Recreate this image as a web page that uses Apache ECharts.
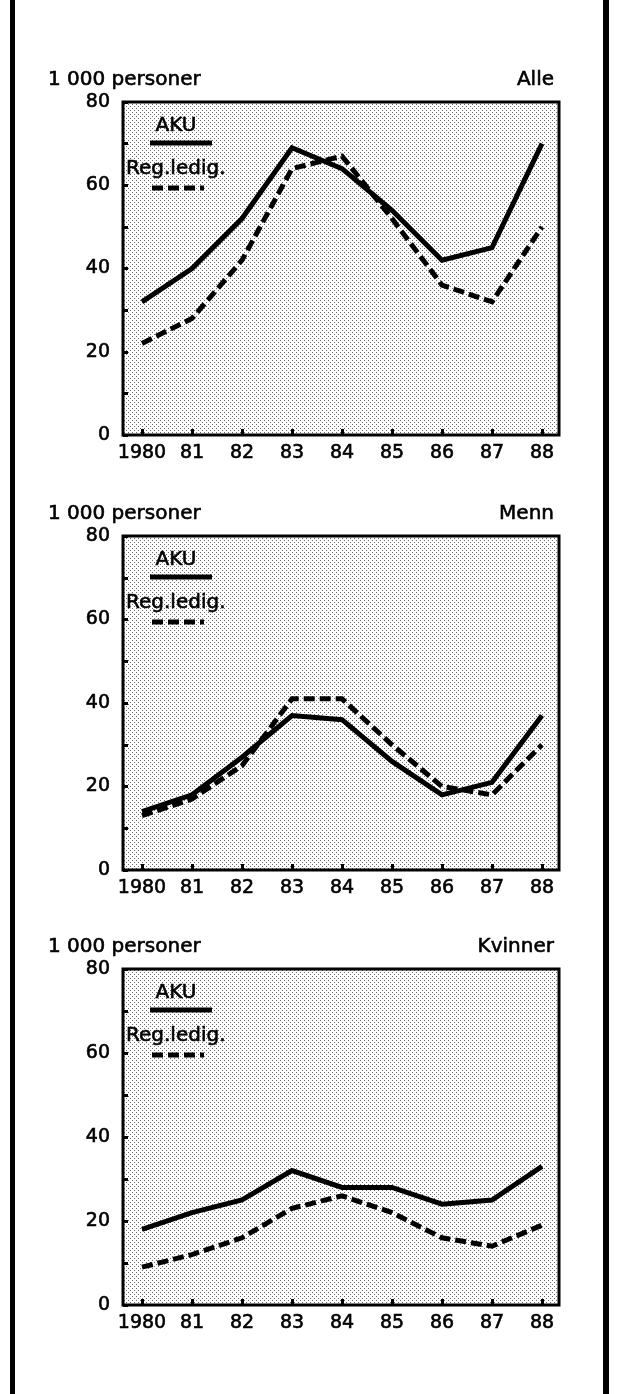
<!DOCTYPE html>
<html>
<head>
<meta charset="utf-8">
<title>AKU og registrerte ledige 1980-88</title>
<script src="https://cdn.jsdelivr.net/npm/echarts@6/dist/echarts.min.js"></script>
<style>
html,body{margin:0;padding:0;background:#fff;}
#main{width:617px;height:1394px;}
</style>
</head>
<body>
<div id="main"></div>
<script>
var years = ['1980', '81', '82', '83', '84', '85', '86', '87', '88'];
var yTicks = [0, 10, 20, 30, 40, 50, 60, 70, 80];
var yLabels = [0, 20, 40, 60, 80];
var panelNames = ['Alle', 'Menn', 'Kvinner'];
var unitText = '1 000 personer';
var akuName = 'AKU';
var regName = 'Reg.ledig.';

var alleAku = [32, 40, 52, 69, 64, 54, 42, 45, 70];
var alleReg = [22, 28, 42, 64, 67, 52, 36, 32, 50];
var mennAku = [14, 18, 27, 37, 36, 26, 18, 21, 37];
var mennReg = [13, 17, 25, 41, 41, 30, 20, 18, 30];
var kvinnerAku = [18, 22, 25, 32, 28, 28, 24, 25, 33];
var kvinnerReg = [9, 12, 16, 23, 26, 22, 16, 14, 19];

var FONT = 'DejaVu Sans';
// plass for hvert panel (top, hoyde)
var panelTop = [102, 536, 969];
var panelHeight = [333, 334, 336];

// prikkete raster-bakgrunn
function makeDots(){
	var c = document.createElement('canvas');
	c.width = 4;
	c.height = 4;
	var ctx = c.getContext('2d');
	ctx.fillStyle = '#fff';
	ctx.fillRect(0, 0, 4, 4);
	ctx.fillStyle = '#6a6a6a';
	ctx.fillRect(0, 0, 1, 1);
	ctx.fillRect(2, 2, 1, 1);
	return c;
}

function toPoints(arr){
	var out = [];
	for(var i = 0; i < arr.length; i++){
		out.push([i, arr[i]]);
	}
	return out;
}

function txt(x, y, s, align){
	return {
		type: 'text', x: x, y: y, z: 100,
		style: {
			text: s, fill: '#000', stroke: '#000', lineWidth: 0.6,
			font: '20px "' + FONT + '"', align: align || 'left', verticalAlign: 'middle'
		}
	};
}

var dots = makeDots();
var seriesData = [[alleAku, alleReg], [mennAku, mennReg], [kvinnerAku, kvinnerReg]];

var grids = [], xAxes = [], yAxes = [], series = [], graphics = [];

for(var p = 0; p < 3; p++){
	var t = panelTop[p];
	grids.push({
		left: 123,
		width: 436,
		top: t,
		height: panelHeight[p],
		show: true,
		borderColor: '#000',
		borderWidth: 3,
		backgroundColor: {image: dots, repeat: 'repeat'}
	});
	xAxes.push({
		type: 'value',
		gridIndex: p,
		min: -0.38,
		max: 8.34,
		axisLine: {show: false, onZero: false},
		splitLine: {show: false},
		axisTick: {
			inside: true,
			length: 6,
			customValues: [0, 1, 2, 3, 4, 5, 6, 7, 8],
			lineStyle: {color: '#000', width: 3}
		},
		axisLabel: {
			margin: 9,
			color: '#000',
			fontFamily: FONT,
			fontSize: 19,
			textBorderColor: '#000',
			textBorderWidth: 0.6,
			customValues: [0, 1, 2, 3, 4, 5, 6, 7, 8],
			formatter: function(v){ return years[Math.round(v)]; }
		}
	});
	yAxes.push({
		type: 'value',
		gridIndex: p,
		min: 0,
		max: 80,
		axisLine: {show: false, onZero: false},
		splitLine: {show: false},
		axisTick: {
			inside: true,
			length: 5,
			customValues: yTicks,
			lineStyle: {color: '#000', width: 3}
		},
		axisLabel: {
			margin: 13,
			color: '#000',
			fontFamily: FONT,
			fontSize: 19,
			textBorderColor: '#000',
			textBorderWidth: 0.6,
			customValues: yLabels
		}
	});
	series.push({
		name: akuName,
		type: 'line',
		xAxisIndex: p,
		yAxisIndex: p,
		symbol: 'none',
		lineStyle: {color: '#000', width: 5, join: 'miter'},
		data: toPoints(seriesData[p][0])
	});
	series.push({
		name: regName,
		type: 'line',
		xAxisIndex: p,
		yAxisIndex: p,
		symbol: 'none',
		lineStyle: {color: '#000', width: 5, type: [11, 5], join: 'miter'},
		data: toPoints(seriesData[p][1])
	});

	// overskrifter
	graphics.push(txt(48, t - 22, unitText));
	graphics.push(txt(554, t - 22, panelNames[p], 'right'));
	// tegnforklaring inne i rammen
	graphics.push(txt(176, t + 24, akuName, 'center'));
	graphics.push({
		type: 'line', z: 100,
		shape: {x1: 150, y1: t + 41, x2: 212, y2: t + 41},
		style: {stroke: '#000', lineWidth: 5}
	});
	graphics.push(txt(126, t + 67, regName));
	graphics.push({
		type: 'line', z: 100,
		shape: {x1: 152, y1: t + 86, x2: 204, y2: t + 86},
		style: {stroke: '#000', lineWidth: 5, lineDash: [11, 5]}
	});
}

// ytre ramme (venstre og hoyre kant)
graphics.push({type: 'rect', z: 100, shape: {x: 10, y: 0, width: 5, height: 1394}, style: {fill: '#000'}});
graphics.push({type: 'rect', z: 100, shape: {x: 603, y: 0, width: 6, height: 1394}, style: {fill: '#000'}});

var chart = echarts.init(document.getElementById('main'));
chart.setOption({
	animation: false,
	backgroundColor: '#fff',
	grid: grids,
	xAxis: xAxes,
	yAxis: yAxes,
	series: series,
	graphic: graphics
});
</script>
</body>
</html>
